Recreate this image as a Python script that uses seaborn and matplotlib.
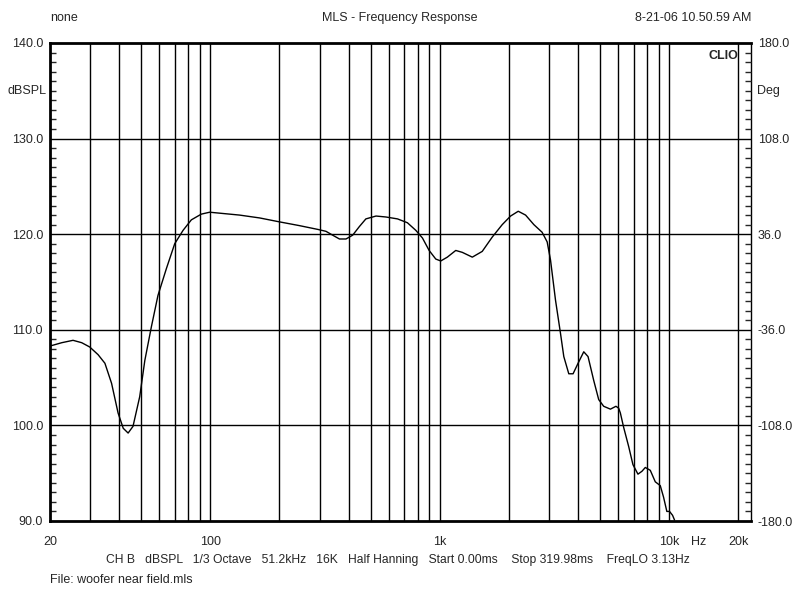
import matplotlib
matplotlib.use("Agg")
import matplotlib.pyplot as plt
import matplotlib.ticker as mticker
import numpy as np
import pandas as pd
import seaborn as sns

# frequency response
freq_hz = [20, 22.5, 25.2, 27.5, 29.8, 32.4, 34.7, 37.1, 39.6, 41.7, 43.8, 46.0,
           49.2, 51.8, 55.3, 59.1, 64.3, 69.9, 76.0, 82.6, 91.3, 99.3, 109.7,
           134, 164, 199, 244, 294, 319, 341, 365, 390, 417, 446, 476, 527, 582,
           654, 722, 786, 840, 898, 960, 1009, 1078, 1173, 1253, 1385, 1530,
           1692, 1870, 2034, 2196, 2364, 2569, 2791, 2935, 3036, 3192, 3357,
           3469, 3647, 3807, 4003, 4238, 4424, 4684, 4924, 5176, 5537, 5855,
           6016, 6119, 6324, 6650, 6942, 7300, 7598, 7861, 8263, 8687, 9133,
           9438, 9756, 10023, 10330, 10540]
spl_db = [108.3, 108.65, 108.9, 108.65, 108.2, 107.4, 106.5, 104.4, 101.3, 99.7,
          99.2, 99.9, 103.0, 106.8, 110.3, 113.6, 116.4, 119.0, 120.4, 121.5,
          122.1, 122.3, 122.2, 122.0, 121.7, 121.3, 120.9, 120.5, 120.3, 119.9,
          119.5, 119.5, 119.9, 120.8, 121.6, 121.9, 121.8, 121.6, 121.2, 120.4,
          119.6, 118.3, 117.4, 117.2, 117.6, 118.3, 118.1, 117.6, 118.2, 119.7,
          121.0, 121.9, 122.4, 122.0, 121.0, 120.2, 119.2, 117.3, 113.1, 109.6,
          107.2, 105.4, 105.4, 106.5, 107.7, 107.2, 104.7, 102.7, 102.0, 101.7,
          102.0, 101.8, 101.3, 99.8, 97.8, 95.9, 94.9, 95.2, 95.6, 95.3, 94.1,
          93.7, 92.5, 91.0, 91.0, 90.6, 90.1]

x_tick_vals = [20, 100, 1000, 10000, 20000]
x_tick_labels = ["20", "100", "1k", "10k", "20k"]
grid_freqs = [30, 40, 50, 60, 70, 80, 90, 100, 200, 300, 400, 500, 600, 700,
              800, 900, 1000, 2000, 3000, 4000, 5000, 6000, 7000, 8000, 9000,
              10000, 20000]
db_ticks = [90, 100, 110, 120, 130, 140]
deg_ticks = [-180, -108, -36, 36, 108, 180]

df = pd.DataFrame({"freq": freq_hz, "spl": spl_db})

sns.set_style("white")
plt.rcParams["font.family"] = ["Liberation Sans", "DejaVu Sans"]

fig = plt.figure(figsize=(8, 6), dpi=100)
ax = fig.add_axes([50 / 800, 1 - 521 / 600, 701 / 800, 478 / 600])

sns.lineplot(data=df, x="freq", y="spl", color="black", linewidth=1.0, ax=ax,
             sort=False)
ax.set_xscale("log")
ax.set_xlim(20, 22700)
ax.set_ylim(90, 140)

for f in grid_freqs:
    ax.axvline(f, color="black", linewidth=1, zorder=1)
for d in db_ticks[1:-1]:
    ax.axhline(d, color="black", linewidth=1, zorder=1)

ax.set_xticks(x_tick_vals)
ax.set_xticklabels(x_tick_labels)
ax.xaxis.set_minor_locator(mticker.NullLocator())
ax.tick_params(axis="x", length=0, pad=11, labelsize=9)
ax.set_yticks(db_ticks)
ax.set_yticklabels([f"{v:.1f}" for v in db_ticks])
ax.yaxis.set_minor_locator(mticker.MultipleLocator(1))
ax.tick_params(axis="y", which="major", length=0, pad=5, labelsize=9)
ax.tick_params(axis="y", which="minor", direction="in", length=4, width=1,
               left=True)
ax.set_xlabel("")
ax.set_ylabel("")

for side in ["top", "bottom", "left"]:
    ax.spines[side].set_linewidth(2)
    ax.spines[side].set_color("black")
ax.spines["right"].set_linewidth(1)
ax.spines["right"].set_color("black")

ax2 = ax.twinx()
ax2.set_ylim(-180, 180)
ax2.set_yticks(deg_ticks)
ax2.set_yticklabels([f"{v:.1f}" for v in deg_ticks])
ax2.yaxis.set_minor_locator(mticker.MultipleLocator(7.2))
ax2.tick_params(axis="y", which="major", length=0, pad=5, labelsize=9)
ax2.tick_params(axis="y", which="minor", direction="in", length=4, width=1,
                right=True)
for s in ax2.spines.values():
    s.set_visible(False)

ax.annotate("dBSPL", xy=(-0.06, 135), xycoords=("axes fraction", "data"),
            ha="left", va="center", fontsize=9)
ax2.annotate("Deg", xy=(1.008, 144), xycoords=("axes fraction", "data"),
             ha="left", va="center", fontsize=9)
ax.annotate("Hz", xy=(13400, 0), xycoords=("data", "axes fraction"),
            xytext=(0, -11), textcoords="offset points",
            ha="center", va="top", fontsize=9)
ax.text(0.982, 0.985, "CLIO", transform=ax.transAxes, ha="right", va="top",
        fontsize=9, fontweight="bold")

fig.text(50 / 800, 1 - 18 / 600, "none", ha="left", va="center", fontsize=9)
fig.text(400 / 800, 1 - 18 / 600, "MLS - Frequency Response", ha="center",
         va="center", fontsize=9)
fig.text(751 / 800, 1 - 18 / 600, "8-21-06 10.50.59 AM", ha="right",
         va="center", fontsize=9)
fig.text(398 / 800, 1 - 560 / 600,
         "CH B   dBSPL   1/3 Octave   51.2kHz   16K   Half Hanning   Start 0.00ms    Stop 319.98ms    FreqLO 3.13Hz",
         ha="center", va="center", fontsize=8.7)
fig.text(50 / 800, 1 - 580 / 600, "File: woofer near field.mls", ha="left",
         va="center", fontsize=9)

fig.savefig("out.png", dpi=100, facecolor="white")
